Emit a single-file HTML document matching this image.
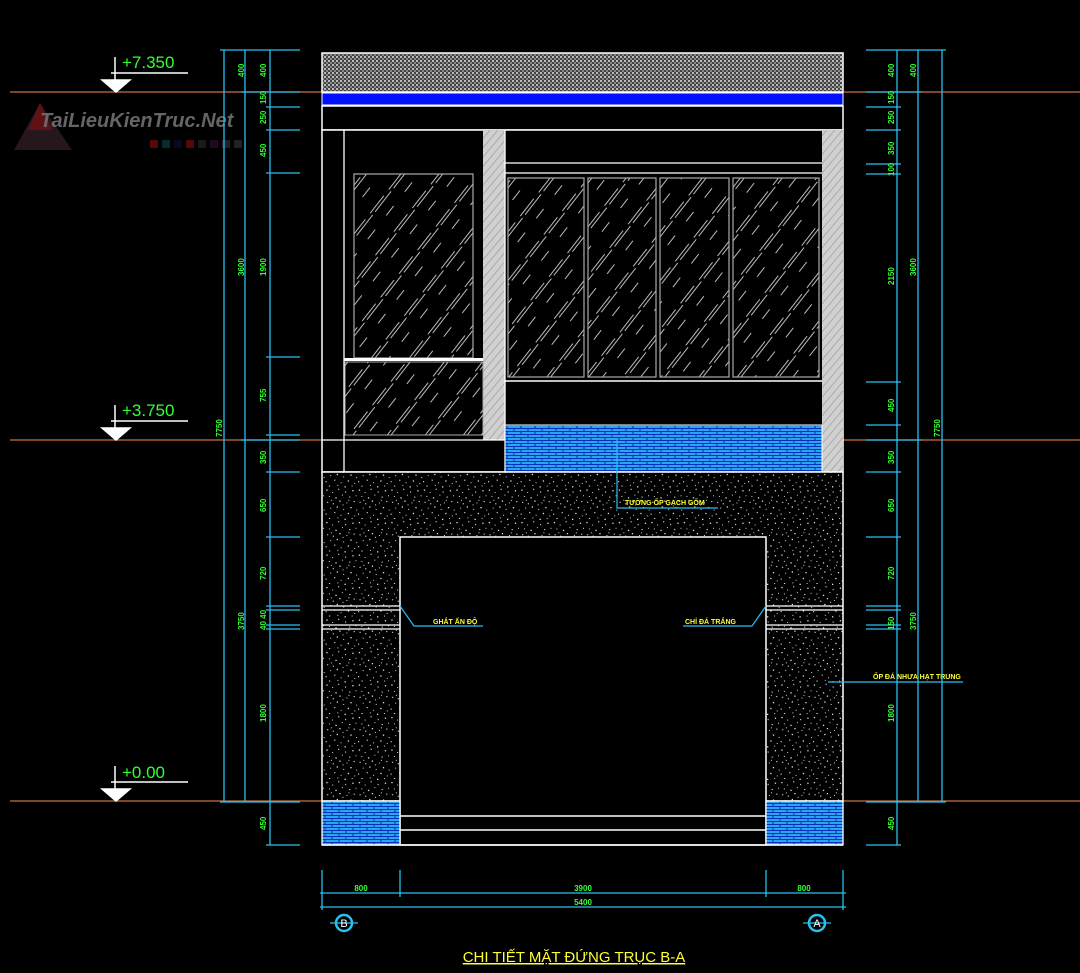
<!DOCTYPE html>
<html><head><meta charset="utf-8"><style>
html,body{margin:0;padding:0;background:#000;width:1080px;height:973px;overflow:hidden}
svg{display:block}
.g{fill:#3f3;font-family:"Liberation Sans",sans-serif;font-size:8px;font-weight:bold}
.y{fill:#ff3;font-family:"Liberation Sans",sans-serif;font-size:7px;font-weight:bold}
.lv{fill:#3f3;font-family:"Liberation Sans",sans-serif;font-size:17px}
</style></head><body>
<svg width="1080" height="973" viewBox="0 0 1080 973" xmlns="http://www.w3.org/2000/svg">
<defs>
<pattern id="sp" width="50" height="50" patternUnits="userSpaceOnUse" patternTransform="scale(0.65)">
<rect width="50" height="50" fill="#000"/>
<g fill="#ddd">
<rect x="2" y="3" width="2" height="2"/><rect x="11" y="7" width="1.5" height="1.5"/><rect x="20" y="2" width="2" height="1.5"/><rect x="31" y="6" width="1.5" height="2"/><rect x="42" y="4" width="2" height="2"/>
<rect x="6" y="13" width="1.5" height="1.5"/><rect x="16" y="15" width="2" height="2"/><rect x="26" y="11" width="1.5" height="1.5"/><rect x="37" y="14" width="2" height="1.5"/><rect x="47" y="12" width="1.5" height="1.5"/>
<rect x="3" y="22" width="2" height="1.5"/><rect x="12" y="24" width="1.5" height="2"/><rect x="22" y="20" width="2" height="2"/><rect x="33" y="23" width="1.5" height="1.5"/><rect x="44" y="21" width="2" height="1.5"/>
<rect x="8" y="31" width="1.5" height="1.5"/><rect x="18" y="29" width="2" height="2"/><rect x="28" y="33" width="1.5" height="1.5"/><rect x="39" y="30" width="2" height="2"/><rect x="48" y="34" width="1.5" height="1.5"/>
<rect x="1" y="40" width="1.5" height="2"/><rect x="14" y="38" width="2" height="1.5"/><rect x="24" y="42" width="1.5" height="1.5"/><rect x="35" y="39" width="2" height="2"/><rect x="45" y="43" width="1.5" height="1.5"/>
<rect x="6" y="47" width="2" height="1.5"/><rect x="19" y="46" width="1.5" height="1.5"/><rect x="30" y="48" width="2" height="2"/><rect x="41" y="47" width="1.5" height="1.5"/><rect x="9" y="19" width="1.5" height="1.5"/><rect x="27" y="26" width="1.5" height="1.5"/><rect x="36" y="19" width="1.5" height="1.5"/>
</g></pattern>
<pattern id="br" width="14" height="6" patternUnits="userSpaceOnUse">
<rect width="14" height="6" fill="#2aa6f0"/>
<path d="M0 2.5H14M0 5.5H14M3 0V2.5M10 3V6" stroke="#0a2fc0" stroke-width="1"/>
</pattern>
<pattern id="gl" width="30" height="30" patternUnits="userSpaceOnUse" patternTransform="rotate(-52)">
<rect width="30" height="30" fill="#000"/>
<path d="M0 3H22M4 6H30M8 17H20" stroke="#bbb" stroke-width="0.9"/>
</pattern>
<pattern id="tp" width="4" height="4" patternUnits="userSpaceOnUse">
<rect width="4" height="4" fill="#444"/><rect width="2" height="2" fill="#bbb"/><rect x="2" y="2" width="2" height="2" fill="#888"/>
</pattern>
<pattern id="pl" width="6" height="6" patternUnits="userSpaceOnUse" patternTransform="rotate(-50)">
<rect width="6" height="6" fill="#d0d0d0"/><path d="M0 3H6" stroke="#aaa" stroke-width="1"/>
</pattern>
</defs>

<!-- watermark -->
<polygon points="14,150 40,103 72,150" fill="#2a1a20" opacity="0.9"/>
<polygon points="28,130 40,103 52,130" fill="#7a1010" opacity="0.7"/>
<text x="40" y="127" font-family="Liberation Sans,sans-serif" font-size="20" font-style="italic" font-weight="bold" fill="#777" opacity="0.85">TaiLieuKienTruc.Net</text>
<g opacity="0.5"><rect x="150" y="140" width="8" height="8" fill="#a11"/><rect x="162" y="140" width="8" height="8" fill="#155"/><rect x="174" y="140" width="8" height="8" fill="#115"/><rect x="186" y="140" width="8" height="8" fill="#a11"/><rect x="198" y="140" width="8" height="8" fill="#333"/><rect x="210" y="140" width="8" height="8" fill="#414"/><rect x="222" y="140" width="8" height="8" fill="#444"/><rect x="234" y="140" width="8" height="8" fill="#444"/></g>

<!-- level lines -->
<g stroke="#c87040" stroke-width="1.2"><line x1="10" y1="92" x2="1080" y2="92"/><line x1="10" y1="440" x2="1080" y2="440"/><line x1="10" y1="801" x2="1080" y2="801"/></g>

<!-- level markers -->
<g stroke="#fff" stroke-width="1.5" fill="#fff">
<line x1="115" y1="57" x2="115" y2="92" /><line x1="111" y1="73" x2="188" y2="73"/><polygon points="102,80 130,80 116,92" fill="#fff"/>
<line x1="115" y1="405" x2="115" y2="440"/><line x1="111" y1="421" x2="188" y2="421"/><polygon points="102,428 130,428 116,440"/>
<line x1="115" y1="766" x2="115" y2="801"/><line x1="111" y1="782" x2="188" y2="782"/><polygon points="102,789 130,789 116,801"/>
</g>
<text class="lv" x="122" y="68">+7.350</text>
<text class="lv" x="122" y="416">+3.750</text>
<text class="lv" x="122" y="778">+0.00</text>

<!-- building -->
<rect x="322" y="53" width="521" height="39" fill="url(#tp)" stroke="#fff" stroke-width="1.5"/>
<rect x="322" y="93" width="521" height="12" fill="#0010ff" stroke="#fff" stroke-width="1"/>
<rect x="322" y="106" width="521" height="24" fill="#000" stroke="#fff" stroke-width="1.5"/>
<rect x="322" y="130" width="521" height="342" fill="#000" stroke="#fff" stroke-width="1.5"/>
<line x1="344" y1="130" x2="344" y2="472" stroke="#fff" stroke-width="1.3"/>
<rect x="483" y="130" width="22" height="310" fill="url(#pl)"/>
<rect x="822" y="130" width="21" height="342" fill="url(#pl)"/>
<rect x="354" y="174" width="119" height="184" fill="url(#gl)" stroke="#aaa" stroke-width="1.2"/>
<rect x="344" y="358" width="139" height="3" fill="#fff"/>
<rect x="345" y="362" width="138" height="73" fill="url(#gl)" stroke="#aaa" stroke-width="1"/>
<line x1="322" y1="440" x2="505" y2="440" stroke="#fff" stroke-width="1.3"/>
<line x1="505" y1="130" x2="505" y2="472" stroke="#fff" stroke-width="1.3"/>
<line x1="505" y1="163" x2="822" y2="163" stroke="#fff" stroke-width="1.3"/>
<line x1="505" y1="173" x2="822" y2="173" stroke="#fff" stroke-width="1.3"/>
<g fill="url(#gl)" stroke="#aaa" stroke-width="1.2">
<rect x="508" y="178" width="76" height="199"/><rect x="588" y="178" width="68" height="199"/><rect x="660" y="178" width="69" height="199"/><rect x="733" y="178" width="86" height="199"/>
</g>
<line x1="505" y1="381" x2="822" y2="381" stroke="#fff" stroke-width="1.5"/>
<rect x="505" y="425" width="317" height="47" fill="url(#br)" stroke="#fff" stroke-width="1"/>

<!-- ground floor -->
<rect x="322" y="472" width="521" height="329" fill="url(#sp)" stroke="#fff" stroke-width="1.5"/>
<rect x="400" y="537" width="366" height="308" fill="#000" stroke="#fff" stroke-width="1.5"/>
<g stroke="#fff" stroke-width="1.3">
<line x1="322" y1="606" x2="400" y2="606"/><line x1="322" y1="610" x2="400" y2="610"/><line x1="322" y1="625" x2="400" y2="625"/><line x1="322" y1="629" x2="400" y2="629"/>
<line x1="766" y1="606" x2="843" y2="606"/><line x1="766" y1="610" x2="843" y2="610"/><line x1="766" y1="625" x2="843" y2="625"/><line x1="766" y1="629" x2="843" y2="629"/>
</g>
<rect x="322" y="801" width="78" height="44" fill="url(#br)" stroke="#fff" stroke-width="1.3"/>
<rect x="766" y="801" width="77" height="44" fill="url(#br)" stroke="#fff" stroke-width="1.3"/>
<g stroke="#fff" stroke-width="1.5"><line x1="400" y1="816" x2="766" y2="816"/><line x1="400" y1="830" x2="766" y2="830"/><line x1="322" y1="845" x2="843" y2="845"/></g>

<!-- leaders -->
<g stroke="#29c0ef" stroke-width="1.2" fill="none">
<polyline points="617,440 617,508 718,508"/>
<polyline points="400,606 414,626 483,626"/>
<polyline points="766,606 752,626 683,626"/>
<polyline points="828,682 963,682"/>
</g>
<text class="y" x="625" y="505">TƯỜNG ỐP GẠCH GỐM</text>
<text class="y" x="433" y="624">GHẮT ẤN ĐỘ</text>
<text class="y" x="685" y="624">CHỈ ĐÁ TRẮNG</text>
<text class="y" x="873" y="679">ỐP ĐÁ NHƯA HẠT TRUNG</text>

<!-- left dims -->
<g stroke="#29c0ef" stroke-width="1.3">
<line x1="224" y1="50" x2="224" y2="802"/><line x1="245" y1="50" x2="245" y2="802"/><line x1="270" y1="50" x2="270" y2="845"/>
<line x1="220" y1="50" x2="300" y2="50"/><line x1="220" y1="802" x2="300" y2="802"/>
<line x1="241" y1="92" x2="300" y2="92"/><line x1="241" y1="440" x2="300" y2="440"/>
<line x1="266" y1="107" x2="300" y2="107"/><line x1="266" y1="130" x2="300" y2="130"/><line x1="266" y1="173" x2="300" y2="173"/><line x1="266" y1="357" x2="300" y2="357"/><line x1="266" y1="435" x2="300" y2="435"/><line x1="266" y1="472" x2="300" y2="472"/><line x1="266" y1="537" x2="300" y2="537"/>
<line x1="266" y1="606" x2="300" y2="606"/><line x1="266" y1="610" x2="300" y2="610"/><line x1="266" y1="625" x2="300" y2="625"/><line x1="266" y1="629" x2="300" y2="629"/><line x1="266" y1="845" x2="300" y2="845"/>
</g>
<!-- right dims -->
<g stroke="#29c0ef" stroke-width="1.3">
<line x1="897" y1="50" x2="897" y2="845"/><line x1="918" y1="50" x2="918" y2="802"/><line x1="942" y1="50" x2="942" y2="802"/>
<line x1="866" y1="50" x2="946" y2="50"/><line x1="866" y1="802" x2="946" y2="802"/>
<line x1="866" y1="92" x2="922" y2="92"/><line x1="866" y1="440" x2="922" y2="440"/>
<line x1="866" y1="107" x2="901" y2="107"/><line x1="866" y1="130" x2="901" y2="130"/><line x1="866" y1="164" x2="901" y2="164"/><line x1="866" y1="174" x2="901" y2="174"/><line x1="866" y1="382" x2="901" y2="382"/><line x1="866" y1="425" x2="901" y2="425"/><line x1="866" y1="472" x2="901" y2="472"/><line x1="866" y1="537" x2="901" y2="537"/>
<line x1="866" y1="606" x2="901" y2="606"/><line x1="866" y1="610" x2="901" y2="610"/><line x1="866" y1="625" x2="901" y2="625"/><line x1="866" y1="629" x2="901" y2="629"/><line x1="866" y1="845" x2="901" y2="845"/>
</g>
<g class="g">
<text transform="translate(244,77) rotate(-90)">400</text>
<text transform="translate(266,77) rotate(-90)">400</text>
<text transform="translate(266,104) rotate(-90)">150</text>
<text transform="translate(266,124) rotate(-90)">250</text>
<text transform="translate(266,157) rotate(-90)">450</text>
<text transform="translate(244,276) rotate(-90)">3600</text>
<text transform="translate(266,276) rotate(-90)">1900</text>
<text transform="translate(266,402) rotate(-90)">755</text>
<text transform="translate(222,437) rotate(-90)">7750</text>
<text transform="translate(266,464) rotate(-90)">350</text>
<text transform="translate(266,512) rotate(-90)">650</text>
<text transform="translate(266,580) rotate(-90)">720</text>
<text transform="translate(244,630) rotate(-90)">3750</text>
<text transform="translate(266,630) rotate(-90)">40 40</text>
<text transform="translate(266,722) rotate(-90)">1800</text>
<text transform="translate(266,830) rotate(-90)">450</text>
<text transform="translate(894,77) rotate(-90)">400</text>
<text transform="translate(916,77) rotate(-90)">400</text>
<text transform="translate(894,104) rotate(-90)">150</text>
<text transform="translate(894,124) rotate(-90)">250</text>
<text transform="translate(894,155) rotate(-90)">350</text>
<text transform="translate(894,176) rotate(-90)">100</text>
<text transform="translate(894,285) rotate(-90)">2150</text>
<text transform="translate(916,276) rotate(-90)">3600</text>
<text transform="translate(894,412) rotate(-90)">450</text>
<text transform="translate(940,437) rotate(-90)">7750</text>
<text transform="translate(894,464) rotate(-90)">350</text>
<text transform="translate(894,512) rotate(-90)">650</text>
<text transform="translate(894,580) rotate(-90)">720</text>
<text transform="translate(916,630) rotate(-90)">3750</text>
<text transform="translate(894,630) rotate(-90)">150</text>
<text transform="translate(894,722) rotate(-90)">1800</text>
<text transform="translate(894,830) rotate(-90)">450</text>
</g>

<!-- bottom dims -->
<g stroke="#29c0ef" stroke-width="1.3" fill="none">
<line x1="320" y1="893" x2="846" y2="893"/><line x1="320" y1="907" x2="846" y2="907"/>
<line x1="322" y1="870" x2="322" y2="910"/><line x1="400" y1="870" x2="400" y2="897"/><line x1="766" y1="870" x2="766" y2="897"/><line x1="843" y1="870" x2="843" y2="910"/>
<circle cx="344" cy="923" r="8" stroke-width="2.5"/><circle cx="817" cy="923" r="8" stroke-width="2.5"/>
<line x1="330" y1="923" x2="358" y2="923"/><line x1="803" y1="923" x2="831" y2="923"/>
</g>
<g class="g" text-anchor="middle"><text x="361" y="891">800</text><text x="583" y="891">3900</text><text x="804" y="891">800</text><text x="583" y="905">5400</text></g>
<text x="344" y="927" fill="#fff" font-family="Liberation Sans,sans-serif" font-size="11" text-anchor="middle">B</text>
<text x="817" y="927" fill="#fff" font-family="Liberation Sans,sans-serif" font-size="11" text-anchor="middle">A</text>
<text x="574" y="962" fill="#ff3" font-family="Liberation Sans,sans-serif" font-size="15" text-anchor="middle" text-decoration="underline">CHI TIẾT MẶT ĐỨNG TRỤC B-A</text>
</svg>
</body></html>
